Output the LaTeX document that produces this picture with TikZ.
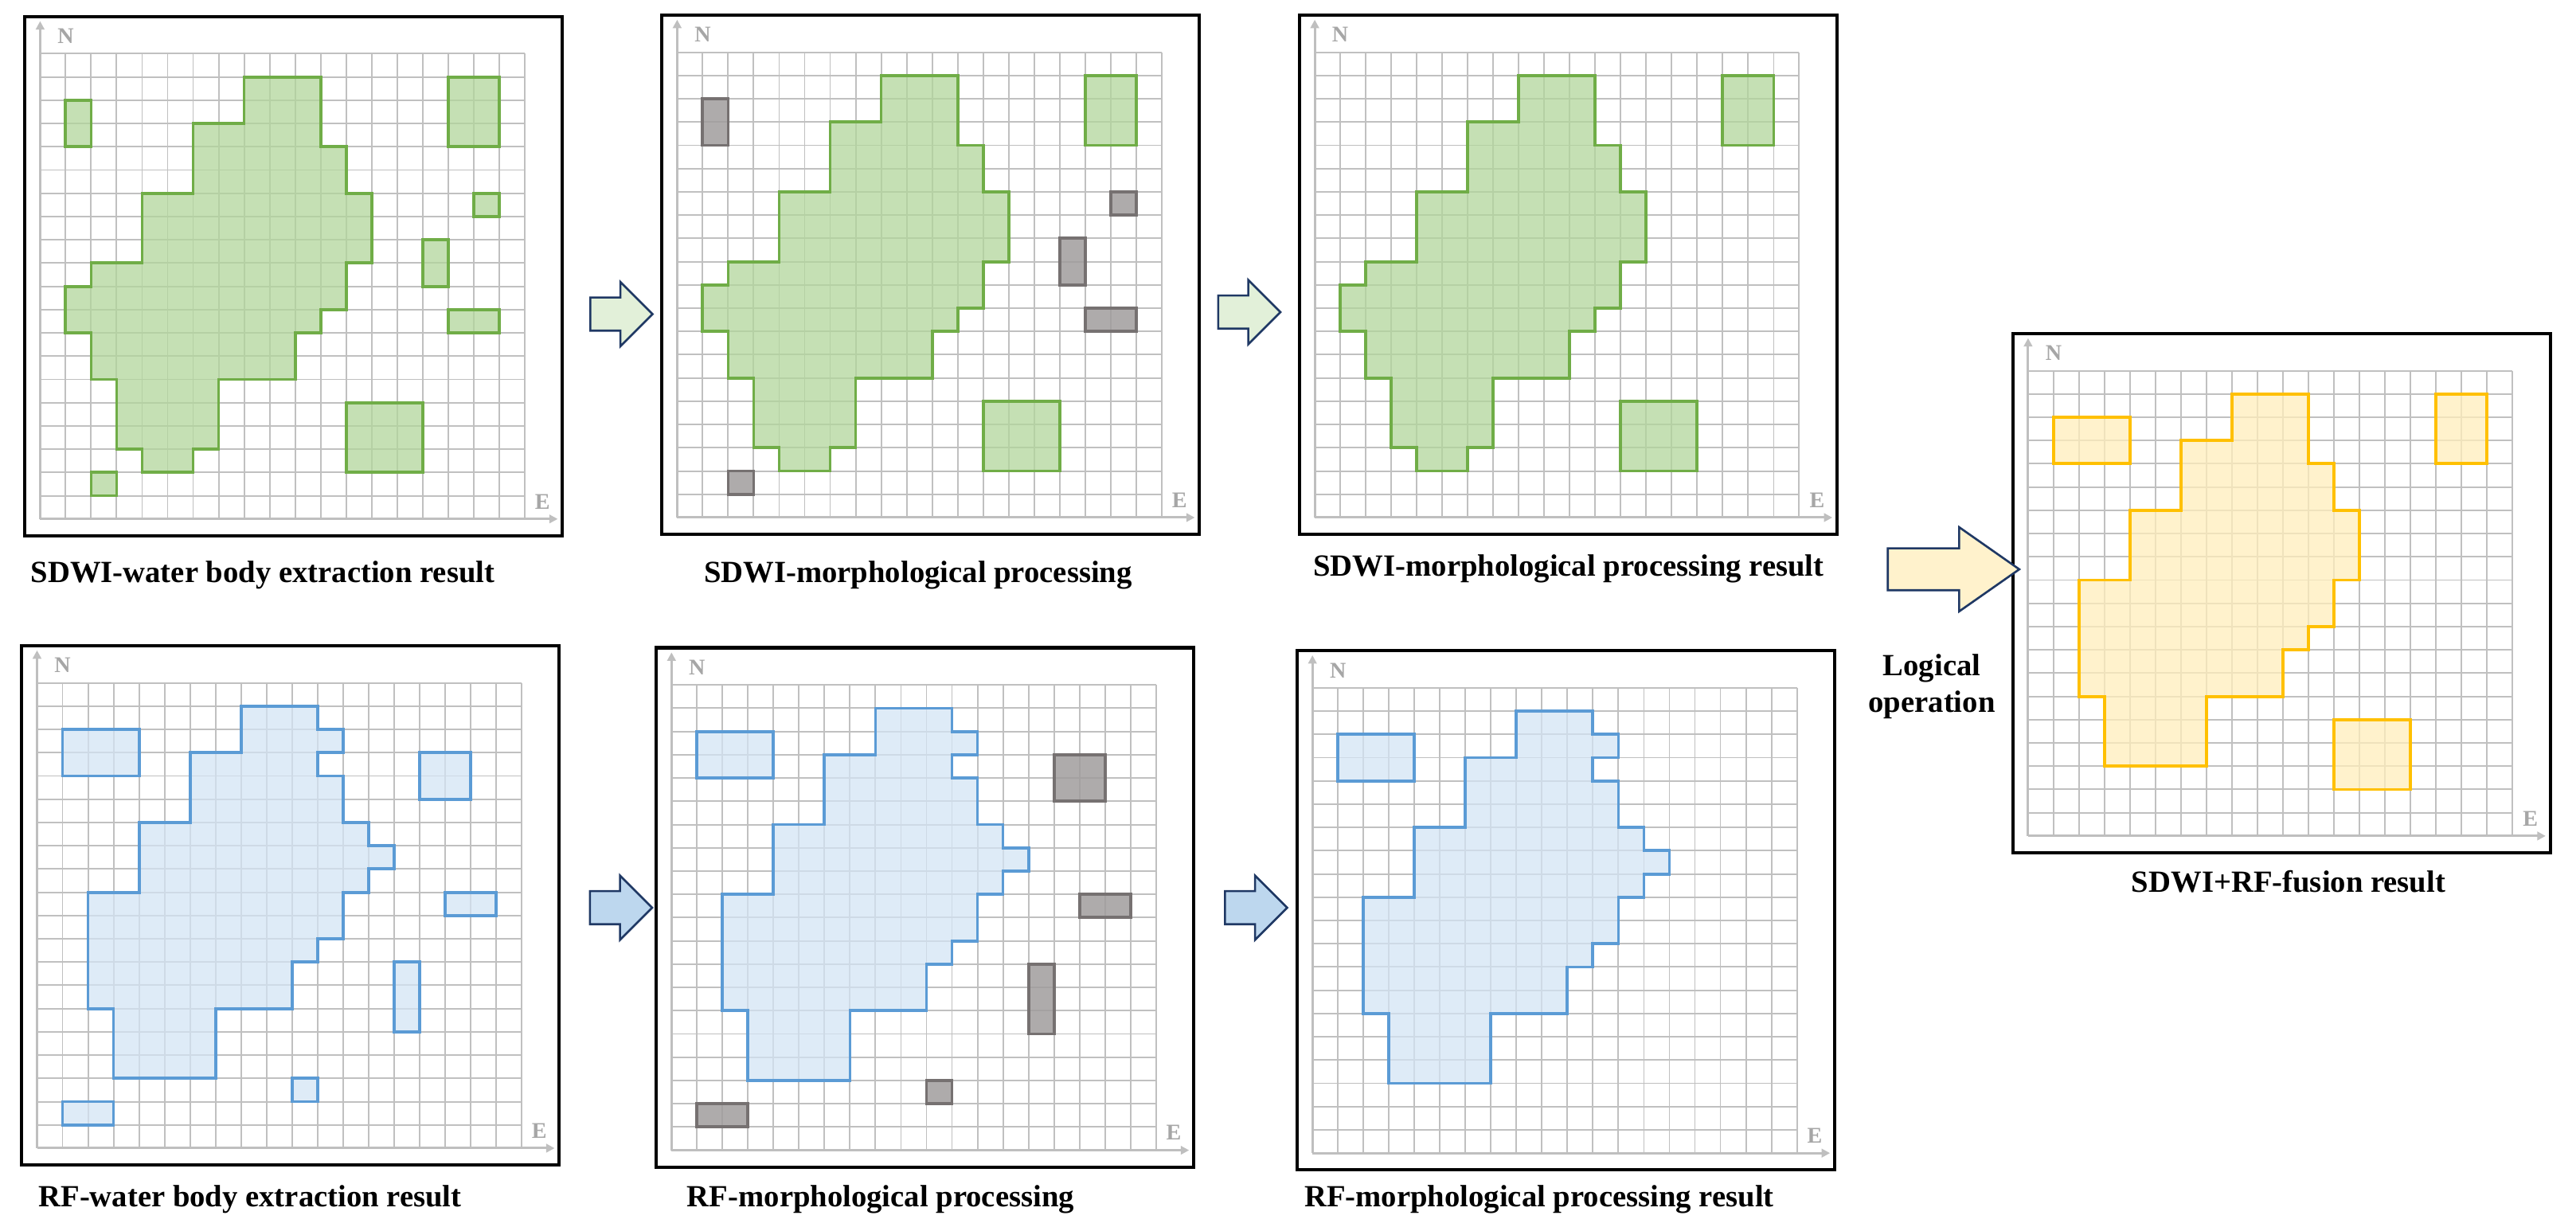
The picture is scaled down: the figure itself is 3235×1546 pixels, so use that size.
\documentclass[tikz,border=0pt]{standalone}
\usepackage{fontspec}
\setmainfont{Liberation Serif}
\usetikzlibrary{arrows.meta,shapes.arrows}

\definecolor{gridgray}{RGB}{192,192,192}
\definecolor{axisgray}{RGB}{191,191,191}
\definecolor{labgray}{RGB}{166,166,166}
\definecolor{wgreen}{RGB}{112,173,71}
\definecolor{wgreenfill}{RGB}{178,214,155}
\definecolor{wblue}{RGB}{91,155,213}
\definecolor{wbluefill}{RGB}{211,228,244}
\definecolor{wyellow}{RGB}{255,192,0}
\definecolor{wyellowfill}{RGB}{255,238,187}
\definecolor{wgray}{RGB}{118,113,113}
\definecolor{wgrayfill}{RGB}{160,156,156}
\definecolor{navy}{RGB}{31,56,100}
\definecolor{arrgreen}{RGB}{226,240,217}
\definecolor{arrblue}{RGB}{189,215,238}
\definecolor{arryellow}{RGB}{255,242,204}

% outlines of the water bodies, in grid cells
\newcommand{\sdwiblob}{(8,19) -| (11,16) -| (12,14) -| (13,11) -| (12,9) -| (11,8) -| (10,6) -| (7,3) -| (6,2) -| (4,3) -| (3,6) -| (2,8) -| (1,10) -| (2,11) -| (4,14) -| (6,17) -| (8,19) -- cycle}
\newcommand{\rfblob}{(8,19) -| (11,18) -| (12,17) -| (11,16) -| (12,14) -| (13,13) -| (14,12) -| (13,11) -| (12,9) -| (11,8) -| (10,6) -| (7,3) -| (3,6) -| (2,11) -| (4,14) -| (6,17) -| (8,19) -- cycle}
\newcommand{\fuseblob}{(8,19) -| (11,16) -| (12,14) -| (13,11) -| (12,9) -| (11,8) -| (10,6) -| (7,3) -| (3,6) -| (2,11) -| (4,14) -| (6,17) -| (8,19) -- cycle}

% one gridded panel: origin, name, water pixels
\newcommand{\gridpanel}[3]{%
  \begin{scope}[shift={#1},x=0.32cm,y=0.292cm]
    \draw[gridline] (0,0) grid (19,20);
    #3
    \draw[axisline] (0,0) -- (0,21.4);
    \draw[axisline] (0,0) -- (20.3,0);
    \node[axislabel] (#2_N) at (1.0,20.75) {N};
    \node[axislabel] (#2_E) at (19.7,0.75) {E};
    \node[panelframe] (#2) at (9.94,10.44) {};
  \end{scope}}

\begin{document}
\begin{tikzpicture}[x=0.01cm,y=0.01cm,
    gridline/.style={draw=gridgray,line width=0.55pt,xstep=0.32cm,ystep=0.292cm},
    axisline/.style={draw=axisgray,line width=0.85pt,-{Triangle[length=3pt,width=3pt]}},
    axislabel/.style={text=labgray,font=\bfseries\fontsize{8}{8}\selectfont,inner sep=0pt},
    panelframe/.style={draw=black,line width=1.15pt,inner sep=0pt,minimum width=6.746cm,minimum height=6.517cm},
    green px/.style={draw=wgreen,fill=wgreenfill,fill opacity=0.75,line width=1.1pt},
    blue px/.style={draw=wblue,fill=wbluefill,fill opacity=0.75,line width=1.1pt},
    yellow px/.style={draw=wyellow,fill=wyellowfill,fill opacity=0.75,line width=1.1pt},
    gray px/.style={draw=wgray,fill=wgrayfill,fill opacity=0.85,line width=1.1pt},
    captext/.style={font=\bfseries\fontsize{11}{13}\selectfont,inner sep=0pt},
    blockarrow/.style={single arrow,draw=navy,line width=0.75pt,inner xsep=0pt,inner ysep=0.195cm,minimum height=0.78cm,single arrow head extend=0.195cm,single arrow tip angle=90}]
  \useasboundingbox (0,0) rectangle (3235,1546);

  % SDWI row
  \gridpanel{(50.4,894.2)}{p_1}{%
    \draw[green px] \sdwiblob;
    \draw[green px] (1,16) rectangle (2,18) (16,16) rectangle (18,19) (17,13) rectangle (18,14)
      (15,10) rectangle (16,12) (16,8) rectangle (18,9) (12,2) rectangle (15,5) (2,1) rectangle (3,2);}
  \gridpanel{(850.4,896)}{p_2}{%
    \draw[green px] \sdwiblob;
    \draw[green px] (16,16) rectangle (18,19) (12,2) rectangle (15,5);
    \draw[gray px] (1,16) rectangle (2,18) (17,13) rectangle (18,14) (15,10) rectangle (16,12)
      (16,8) rectangle (18,9) (2,1) rectangle (3,2);}
  \gridpanel{(1651.1,896)}{p_3}{%
    \draw[green px] \sdwiblob;
    \draw[green px] (16,16) rectangle (18,19) (12,2) rectangle (15,5);}

  % RF row
  \gridpanel{(46.5,104)}{p_5}{%
    \draw[blue px] \rfblob;
    \draw[blue px] (1,16) rectangle (4,18) (15,15) rectangle (17,17) (16,10) rectangle (18,11)
      (14,5) rectangle (15,8) (10,2) rectangle (11,3) (1,1) rectangle (3,2);}
  \gridpanel{(843.3,101.4)}{p_6}{%
    \draw[blue px] \rfblob;
    \draw[blue px] (1,16) rectangle (4,18);
    \draw[gray px] (15,15) rectangle (17,17) (16,10) rectangle (18,11) (14,5) rectangle (15,8)
      (10,2) rectangle (11,3) (1,1) rectangle (3,2);}
  \gridpanel{(1648.2,97.8)}{p_7}{%
    \draw[blue px] \rfblob;
    \draw[blue px] (1,16) rectangle (4,18);}

  % fusion
  \gridpanel{(2546.9,496.1)}{p_4}{%
    \draw[yellow px] \fuseblob;
    \draw[yellow px] (1,16) rectangle (4,18) (16,16) rectangle (18,19) (12,2) rectangle (15,5);}

  \node[blockarrow,fill=arrgreen] (arr_1) at (770,1151.5) {};
  \node[blockarrow,fill=arrgreen] (arr_2) at (1558.5,1154) {};
  \node[blockarrow,fill=arrblue] (arr_3) at (769.5,406) {};
  \node[blockarrow,fill=arrblue] (arr_4) at (1567,406) {};
  \node[blockarrow,fill=arryellow,minimum height=1.65cm,inner ysep=0.25cm,
    single arrow head extend=0.265cm,single arrow tip angle=70] (arr_5) at (2434.5,831) {};

  \node[captext] (cap_1) at (330,824) {SDWI-water body extraction result};
  \node[captext] (cap_2) at (1153,824) {SDWI-morphological processing};
  \node[captext] (cap_3) at (1970,832) {SDWI-morphological processing result};
  \node[captext] (cap_4) at (2874,439) {SDWI+RF-fusion result};
  \node[captext] (cap_5) at (314,40) {RF-water body extraction result};
  \node[captext] (cap_6) at (1106,40) {RF-morphological processing};
  \node[captext] (cap_7) at (1933,40) {RF-morphological processing result};
  \node[captext,align=center] (logic) at (2426,684) {Logical\\operation};
\end{tikzpicture}
\end{document}
